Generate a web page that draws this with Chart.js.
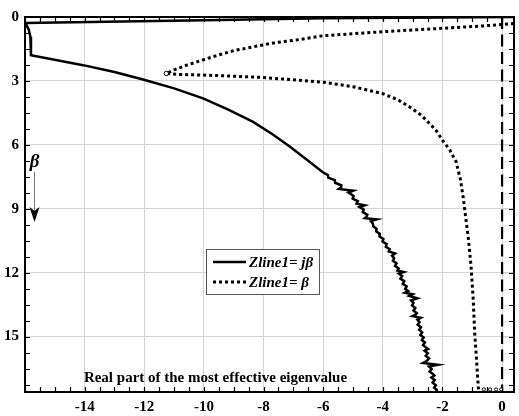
<!DOCTYPE html>
<html>
<head>
<meta charset="utf-8">
<script src="https://cdn.jsdelivr.net/npm/chart.js@4.4.1/dist/chart.umd.min.js"></script>
<style>
  html, body { margin: 0; padding: 0; background: #fff; }
  #wrap { width: 519px; height: 416px; }
</style>
</head>
<body>
<div id="wrap"><canvas id="eig"></canvas></div>
<script>
// [real part, beta] of the most effective eigenvalue, Zline1 = j*beta
const jbCurve = [
  [0.4, 0.0], [-6.0, 0.06], [-10.0, 0.15], [-16.02, 0.28], [-15.95, 0.38],
  [-15.87, 0.61], [-15.82, 0.93], [-15.8, 1.79], [-14.05, 2.26], [-13.0, 2.58],
  [-12.04, 2.93], [-11.0, 3.35], [-10.03, 3.82], [-9.2, 4.34], [-8.35, 4.92],
  [-7.7, 5.5], [-7.1, 6.1], [-6.45, 6.8], [-6.0, 7.3],
  [-5.84, 7.42], [-5.83, 7.54], [-5.61, 7.66], [-5.6, 7.78], [-5.39, 7.9],
  [-5.4, 8.0], [-5.47, 8.07], [-4.99, 8.15], [-5.15, 8.24], [-4.98, 8.4],
  [-5.01, 8.52], [-4.84, 8.64], [-4.88, 8.76], [-4.61, 8.84], [-4.78, 8.92],
  [-4.64, 9.04], [-4.67, 9.16], [-4.52, 9.28], [-4.55, 9.38], [-4.6, 9.44],
  [-4.2, 9.5], [-4.4, 9.58], [-4.33, 9.7], [-4.32, 9.82], [-4.21, 9.94],
  [-4.22, 10.06], [-4.1, 10.18], [-4.11, 10.3], [-3.98, 10.42], [-4.01, 10.54],
  [-3.87, 10.66], [-3.9, 10.78], [-3.77, 10.9], [-3.8, 11.0], [-3.59, 11.1],
  [-3.69, 11.2], [-3.62, 11.32], [-3.66, 11.44], [-3.54, 11.56], [-3.59, 11.68],
  [-3.47, 11.8], [-3.51, 11.9], [-3.3, 11.97], [-3.46, 12.05], [-3.35, 12.16],
  [-3.41, 12.28], [-3.28, 12.4], [-3.33, 12.52], [-3.2, 12.64], [-3.25, 12.76],
  [-3.15, 12.86], [-3.26, 12.94], [-3.0, 13.01], [-3.11, 13.09], [-2.84, 13.2],
  [-3.05, 13.3], [-2.97, 13.42], [-3.02, 13.54], [-2.91, 13.66], [-2.97, 13.78],
  [-2.86, 13.9], [-2.91, 13.98], [-3.0, 14.04], [-2.73, 14.12], [-2.84, 14.2],
  [-2.77, 14.32], [-2.83, 14.44], [-2.72, 14.56], [-2.78, 14.68], [-2.68, 14.8],
  [-2.74, 14.92], [-2.63, 15.04], [-2.69, 15.16], [-2.59, 15.28], [-2.65, 15.4],
  [-2.56, 15.5], [-2.48, 15.58], [-2.6, 15.66], [-2.49, 15.78], [-2.56, 15.9],
  [-2.45, 16.02], [-2.52, 16.14], [-2.65, 16.24], [-2.16, 16.32], [-2.45, 16.4],
  [-2.36, 16.52], [-2.43, 16.64], [-2.32, 16.75], [-2.27, 16.83], [-2.37, 16.92],
  [-2.26, 17.04], [-2.33, 17.16], [-2.22, 17.28], [-2.28, 17.4], [-2.19, 17.5],
  [-2.2, 17.6]
];

// [real part, beta] for Zline1 = beta (upper branch, then lower branch)
const bCurve = [
  [0.4, 0.31], [-0.65, 0.42], [-2.0, 0.53], [-4.0, 0.69], [-6.0, 0.88],
  [-6.9, 1.08], [-7.6, 1.2], [-8.35, 1.4], [-9.0, 1.58], [-9.5, 1.78],
  [-10.0, 2.0], [-10.6, 2.27], [-11.0, 2.48], [-11.26, 2.65],
  [-10.92, 2.69], [-9.5, 2.75], [-8.0, 2.84], [-6.9, 2.96], [-6.0, 3.06],
  [-5.0, 3.27], [-4.0, 3.6], [-3.5, 3.88], [-3.1, 4.22], [-2.72, 4.6],
  [-2.43, 5.0], [-2.2, 5.35], [-2.0, 5.78], [-1.75, 6.25], [-1.54, 6.8],
  [-1.4, 7.6], [-1.3, 8.5], [-1.22, 9.4], [-1.13, 10.4], [-1.04, 11.7],
  [-0.97, 13.2], [-0.92, 14.8], [-0.86, 16.0], [-0.82, 16.9], [-0.79, 17.48]
];

// open markers at the branch ends
const markRe = [-11.26, -0.61, -0.4, -0.2, -0.03];
const markBeta = [2.65, 17.48, 17.48, 17.48, 17.48];

// Re = 0 reference
const refRe = [0, 0];
const refBeta = [0, 17.6];

const xTickLabels = [-14, -12, -10, -8, -6, -4, -2, 0];
const yTickLabels = [0, 3, 6, 9, 12, 15];

// minor tick positions (every 0.5 on x, every 0.75 on y)
const xMinor = [];
for (let i = 0; i <= 32; i++) xMinor.push(-16 + i * 0.5);
const yMinor = [];
for (let i = 0; i <= 23; i++) yMinor.push(i * 0.75);

const serif = '"Liberation Serif", "Times New Roman", serif';
const toPoints = pairs => pairs.map(([x, y]) => ({ x, y }));
const zip = (xs, ys) => xs.map((x, i) => ({ x, y: ys[i] }));

// frame, inward ticks, legend box and the annotations
const frameAndNotes = {
  id: 'frameAndNotes',
  afterDatasetsDraw(chart) {
    const { ctx, chartArea: a, scales: { x, y } } = chart;
    ctx.save();

    ctx.strokeStyle = '#000';
    ctx.lineWidth = 1.2;
    ctx.beginPath();
    x.ticks.forEach(t => {
      const px = Math.round(x.getPixelForValue(t.value)) + 0.5;
      ctx.moveTo(px, a.bottom); ctx.lineTo(px, a.bottom - 5);
      ctx.moveTo(px, a.top); ctx.lineTo(px, a.top + 5);
    });
    y.ticks.forEach(t => {
      const py = Math.round(y.getPixelForValue(t.value)) + 0.5;
      ctx.moveTo(a.left, py); ctx.lineTo(a.left + 5, py);
      ctx.moveTo(a.right, py); ctx.lineTo(a.right - 5, py);
    });
    ctx.stroke();

    ctx.lineWidth = 2;
    ctx.strokeRect(a.left, a.top, a.right - a.left, a.bottom - a.top);

    // legend
    const lx = a.left + 181, ly = a.top + 232, lw = 113, lh = 45;
    ctx.fillStyle = '#fff';
    ctx.fillRect(lx, ly, lw, lh);
    ctx.strokeStyle = '#555';
    ctx.lineWidth = 1;
    ctx.strokeRect(lx + 0.5, ly + 0.5, lw, lh);
    chart.data.datasets.filter(d => d.label).forEach((d, i) => {
      const yy = ly + 13 + i * 20;
      ctx.strokeStyle = d.borderColor;
      ctx.lineWidth = d.borderWidth;
      ctx.lineCap = 'butt';
      ctx.setLineDash(d.borderDash || []);
      ctx.beginPath();
      ctx.moveTo(lx + 7, yy);
      ctx.lineTo(lx + 40, yy);
      ctx.stroke();
      ctx.setLineDash([]);
      ctx.fillStyle = '#000';
      ctx.font = 'italic bold 15px ' + serif;
      ctx.textAlign = 'left';
      ctx.textBaseline = 'middle';
      ctx.fillText(d.label, lx + 43, yy + 1);
    });

    // caption inside the plot
    ctx.fillStyle = '#000';
    ctx.font = 'bold 15px ' + serif;
    ctx.textAlign = 'center';
    ctx.textBaseline = 'alphabetic';
    ctx.fillText('Real part of the most effective eigenvalue', a.left + 190.5, a.bottom - 10);

    // beta direction arrow
    const ax = a.left + 9.5;
    ctx.font = 'italic bold 19px ' + serif;
    ctx.fillText('β', ax, a.top + 150);
    ctx.strokeStyle = '#777';
    ctx.lineWidth = 1;
    ctx.beginPath();
    ctx.moveTo(ax, a.top + 155);
    ctx.lineTo(ax, a.top + 198);
    ctx.stroke();
    ctx.fillStyle = '#000';
    ctx.beginPath();
    ctx.moveTo(ax, a.top + 205);
    ctx.lineTo(ax - 5, a.top + 190);
    ctx.lineTo(ax, a.top + 194);
    ctx.lineTo(ax + 5, a.top + 190);
    ctx.closePath();
    ctx.fill();

    ctx.restore();
  }
};

const tickFont = { family: serif, size: 15, weight: 'bold' };

new Chart(document.getElementById('eig'), {
  type: 'scatter',
  data: {
    datasets: [
      {
        label: 'Zline1= jβ',
        data: toPoints(jbCurve),
        showLine: true,
        borderColor: '#000',
        borderWidth: 2.5,
        borderJoinStyle: 'miter',
        pointRadius: 0,
        tension: 0,
        order: 1
      },
      {
        label: 'Zline1= β',
        data: toPoints(bCurve),
        showLine: true,
        borderColor: '#000',
        borderWidth: 3,
        borderDash: [3, 3],
        borderCapStyle: 'butt',
        pointRadius: 0,
        tension: 0,
        order: 2
      },
      {
        data: zip(markRe, markBeta),
        showLine: false,
        pointRadius: [2.2, 1.6, 1.6, 1.6, 1.6],
        pointBackgroundColor: '#fff',
        pointBorderColor: '#000',
        pointBorderWidth: 1,
        order: 0
      },
      {
        data: zip(refRe, refBeta),
        showLine: true,
        borderColor: '#000',
        borderWidth: 2.2,
        borderDash: [12, 5.5],
        pointRadius: 0,
        order: 3
      }
    ]
  },
  options: {
    responsive: true,
    maintainAspectRatio: false,
    animation: false,
    events: [],
    layout: { padding: { top: 17, right: 5, left: 0, bottom: 0 } },
    plugins: { legend: { display: false }, tooltip: { enabled: false } },
    scales: {
      x: {
        type: 'linear',
        min: -16,
        max: 0.4,
        afterBuildTicks: s => { s.ticks = xMinor.map(v => ({ value: v })); },
        afterFit: s => { s.height = 24; },
        border: { display: false },
        grid: {
          drawTicks: false,
          lineWidth: 1,
          color: c => (c.tick && xTickLabels.includes(c.tick.value)) ? '#d5d5d5' : 'rgba(0,0,0,0)'
        },
        ticks: {
          autoSkip: false,
          maxRotation: 0,
          padding: 6,
          color: '#000',
          font: tickFont,
          callback: v => xTickLabels.includes(v) ? String(v) : ''
        }
      },
      y: {
        type: 'linear',
        reverse: true,
        min: 0,
        max: 17.6,
        afterBuildTicks: s => { s.ticks = yMinor.map(v => ({ value: v })); },
        afterFit: s => { s.width = 25; },
        border: { display: false },
        grid: {
          drawTicks: false,
          lineWidth: 1,
          color: c => (c.tick && yTickLabels.includes(c.tick.value)) ? '#d5d5d5' : 'rgba(0,0,0,0)'
        },
        ticks: {
          autoSkip: false,
          padding: 6,
          color: '#000',
          font: tickFont,
          callback: v => yTickLabels.includes(v) ? String(v) : ''
        }
      }
    }
  },
  plugins: [frameAndNotes]
});
</script>
</body>
</html>
